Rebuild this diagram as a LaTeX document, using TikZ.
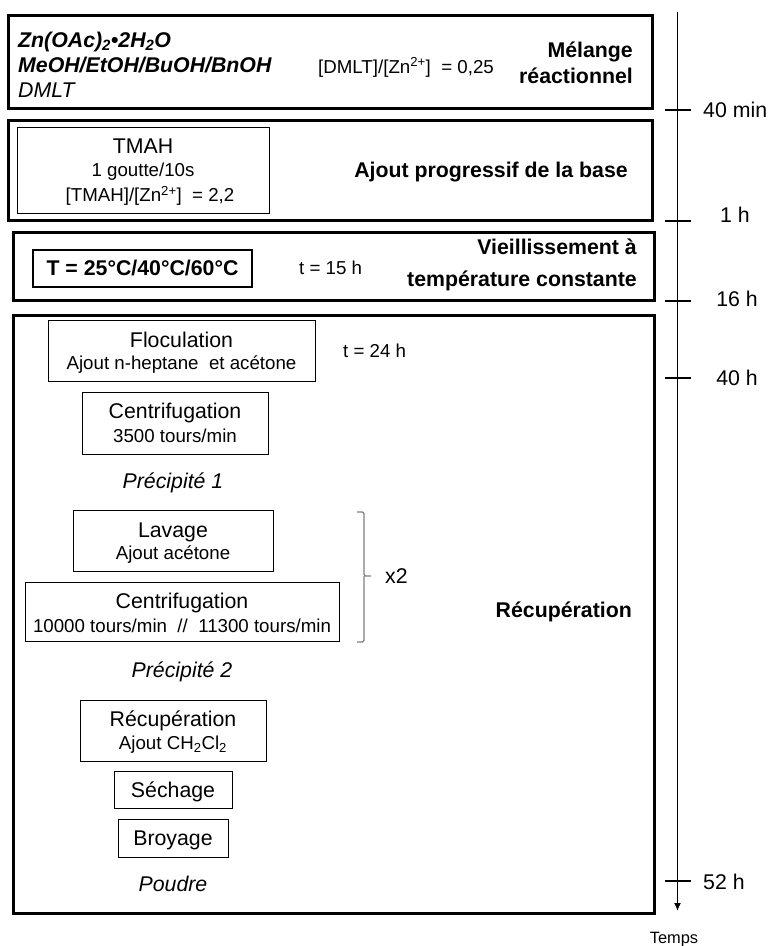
\documentclass[tikz,border=0pt]{standalone}
\usepackage{fontspec}
\usetikzlibrary{arrows.meta}
\setmainfont{Liberation Sans}
\newcommand{\fbig}{\fontsize{21.3}{25}\selectfont}
\newcommand{\fsmall}{\fontsize{18.7}{22}\selectfont}
\newcommand{\ftiny}{\fontsize{16.4}{19}\selectfont}
\begin{document}
\begin{tikzpicture}[x=1pt,y=-1pt,
  bigbox/.style={draw, line width=3pt, inner sep=0pt},
  stepbox/.style={draw, line width=1pt, inner sep=0pt},
  tb/.style={inner sep=0pt, anchor=base, font=\fbig},
  ts/.style={inner sep=0pt, anchor=base, font=\fsmall},
  tick/.style={line width=1.3pt}]
\useasboundingbox (0,0) rectangle (770,946);
\fill[white] (0,0) rectangle (770,946);

% big boxes
\node[bigbox, minimum width=644, minimum height=93] (b1) at (330,61.5) {};
\node[bigbox, minimum width=644, minimum height=100] (b2) at (330,170) {};
\node[bigbox, minimum width=641, minimum height=68] (b3) at (333.5,266) {};
\node[bigbox, minimum width=641, minimum height=598] (b4) at (333.5,614) {};

% box 1
\node[tb, anchor=base west, font=\fbig\bfseries\itshape] (zn) at (18,47.5) {Zn(OAc)\textsubscript{2}•2H\textsubscript{2}O};
\node[tb, anchor=base west, font=\fbig\bfseries\itshape] (solv) at (18,72.5) {MeOH/EtOH/BuOH/BnOH};
\node[tb, anchor=base west, font=\fbig\itshape] (dmlt) at (18,97.5) {DMLT};
\node[ts, anchor=base west] (ratio1) at (318,73) {[DMLT]/[Zn\textsuperscript{2+}]\ \ = 0,25};
\node[tb, anchor=base east, font=\fbig\bfseries] (mel1) at (633,57.6) {Mélange};
\node[tb, anchor=base east, font=\fbig\bfseries] (mel2) at (633,83.6) {réactionnel};

% box 2
\node[stepbox, minimum width=252, minimum height=86] (tmah) at (143,170) {};
\node[tb] (tmah1) at (143,153.6) {TMAH};
\node[ts] (tmah2) at (143,176.7) {1 goutte/10s};
\node[ts] (tmah3) at (150,201.7) {[TMAH]/[Zn\textsuperscript{2+}]\ \ = 2,2};
\node[tb, font=\fbig\bfseries] (ajout) at (491,177.6) {Ajout progressif de la base};

% box 3
\node[stepbox, line width=1.5pt, minimum width=219, minimum height=37] (tbox) at (142.5,268.5) {};
\node[tb, font=\fbig\bfseries] (temp) at (142.5,275.6) {T = 25°C/40°C/60°C};
\node[ts, anchor=base west] (t15) at (299,274.7) {t = 15 h};
\node[tb, anchor=base east, font=\fbig\bfseries] (vie1) at (637,254.6) {Vieillissement à};
\node[tb, anchor=base east, font=\fbig\bfseries] (vie2) at (637,286.6) {température constante};

% box 4
\node[stepbox, minimum width=267, minimum height=61] (floc) at (181.5,350.5) {};
\node[tb] (floc1) at (181.5,347.6) {Floculation};
\node[ts] (floc2) at (181.5,369.7) {Ajout n-heptane\ \ et acétone};
\node[ts, anchor=base west] (t24) at (343,357.7) {t = 24 h};

\node[stepbox, minimum width=186, minimum height=62] (cent1) at (175,423) {};
\node[tb] (cent1a) at (175,418.6) {Centrifugation};
\node[ts] (cent1b) at (175,442.7) {3500 tours/min};
\node[tb, font=\fbig\itshape] (prec1) at (173,488.6) {Précipité 1};

\node[stepbox, minimum width=200, minimum height=61] (lav) at (173,540.5) {};
\node[tb] (lav1) at (173,537.6) {Lavage};
\node[ts] (lav2) at (173,559.7) {Ajout acétone};

\node[stepbox, minimum width=314, minimum height=59] (cent2) at (182,611.5) {};
\node[tb] (cent2a) at (182,608.6) {Centrifugation};
\node[ts] (cent2b) at (182,632.7) {10000 tours/min\ \ //\ \ 11300 tours/min};
\node[tb, font=\fbig\itshape] (prec2) at (182,677.6) {Précipité 2};

\coordinate (br1) at (357,512);
\coordinate (br2) at (357,642);
\coordinate (brm) at (371,576);
\draw[gray, line width=1.2pt, rounded corners=1.5pt] (br1) -| (364,576) -- (brm) (364,576) |- (br2);
\node[tb, anchor=base west] (x2) at (385,583.5) {x2};

\node[stepbox, minimum width=186, minimum height=61] (recup) at (173,730.5) {};
\node[tb] (recup1) at (173,726.6) {Récupération};
\node[ts] (recup2) at (173,749.7) {Ajout\ CH\textsubscript{2}Cl\textsubscript{2}};

\node[stepbox, minimum width=118, minimum height=37] (sech) at (173,789.5) {};
\node[tb] (sech1) at (173,797.6) {Séchage};
\node[stepbox, minimum width=110, minimum height=38] (broy) at (173,838) {};
\node[tb] (broy1) at (173,845.6) {Broyage};
\node[tb, font=\fbig\itshape] (poudre) at (173,891.6) {Poudre};

\node[tb, anchor=base east, font=\fbig\bfseries] (recupl) at (632,617.6) {Récupération};

% timeline
\coordinate (ttop) at (677.5,12);
\coordinate (tbot) at (677.5,911);
\draw[line width=1.5pt, -{Latex[length=8pt,width=7pt]}] (ttop) -- (tbot);
\foreach \y/\n in {110/a,221/b,301/c,378/d,881/e}{
  \coordinate (tl\n) at (665,\y);
  \coordinate (tr\n) at (691,\y);
  \draw[tick] (tl\n) -- (tr\n);
}
\node[tb, anchor=base west] (l40m) at (703,117.6) {40 min};
\node[tb] (l1h) at (735,222) {1 h};
\node[tb] (l16h) at (737,306.6) {16 h};
\node[tb] (l40h) at (737,385.6) {40 h};
\node[tb, anchor=base west] (l52h) at (703,889) {52 h};
\node[inner sep=0pt, anchor=base, font=\ftiny] (temps) at (674,943) {Temps};
\end{tikzpicture}
\end{document}
